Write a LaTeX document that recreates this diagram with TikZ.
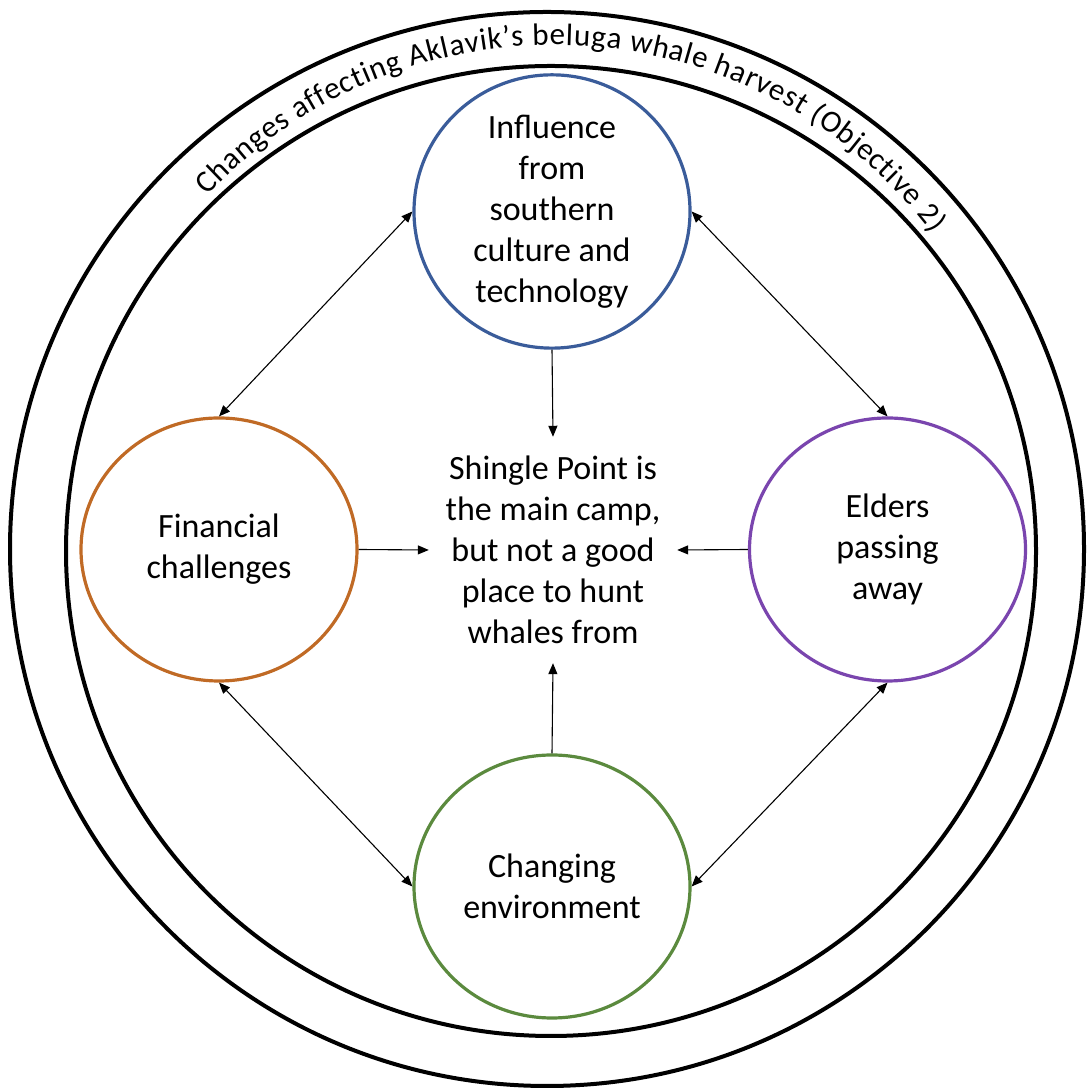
\documentclass[tikz,border=0pt]{standalone}
\usepackage{fontspec}
\setmainfont{Carlito}
\usetikzlibrary{arrows.meta,decorations.text,shapes.geometric}

\definecolor{topicblue}{HTML}{3A5C9A}
\definecolor{topicorange}{HTML}{C06A25}
\definecolor{topicpurple}{HTML}{7A45AE}
\definecolor{topicgreen}{HTML}{5B8A3E}

\begin{document}
\begin{tikzpicture}[x=1pt,y=1pt,
  ring/.style={draw=black, line width=4pt},
  topic/.style={ellipse, draw, line width=3.2pt, minimum width=276pt,
    minimum height=263pt, inner sep=0pt, align=center,
    font=\fontsize{34}{41}\selectfont},
  link/.style={line width=1.1pt, -{Triangle[length=11pt,width=9pt]}},
  twoway/.style={line width=1.1pt,
    {Triangle[length=11pt,width=9pt]}-{Triangle[length=11pt,width=9pt]}},
]
\useasboundingbox (0,0) rectangle (1086,1091);

% outer band holding the title
\draw[ring] (547,542) circle[radius=537];
\draw[ring] (551,540) circle[radius=485];

% title along the band
\path[decorate, decoration={text along path, text align=fit to path,
  text={|\fontsize{31}{34}\selectfont|Changes affecting Aklavik’s beluga whale harvest (Objective 2)}}]
  (554,572) ++(137:474) arc[start angle=137, end angle=37, radius=474];

% the four drivers
\node[topic, draw=topicblue]   (inf) at (552,879.5) {Influence\\from\\southern\\culture and\\technology};
\node[topic, draw=topicorange] (fin) at (219,541.5) {Financial\\challenges};
\node[topic, draw=topicpurple] (eld) at (887.5,541.5) {Elders\\passing\\away};
\node[topic, draw=topicgreen]  (env) at (552,204.5) {Changing\\environment};

% central outcome
\node[align=center, font=\fontsize{34}{41}\selectfont, minimum width=248pt,
  minimum height=226pt, inner sep=0pt] (mid) at (553,541)
  {Shingle Point is\\the main camp,\\but not a good\\place to hunt\\whales from};

% links into the centre
\draw[link] (inf.south) -- (mid.north);
\draw[link] (fin.east) -- (mid.west);
\draw[link] (eld.west) -- (mid.east);
\draw[link] (env.north) -- (mid.south);

% links between drivers
\draw[twoway] (inf.west) -- (fin.north);
\draw[twoway] (inf.east) -- (eld.north);
\draw[twoway] (fin.south) -- (env.west);
\draw[twoway] (eld.south) -- (env.east);
\end{tikzpicture}
\end{document}
